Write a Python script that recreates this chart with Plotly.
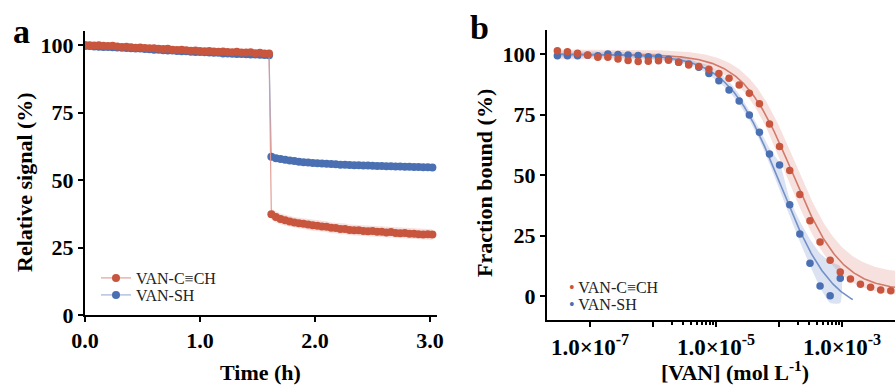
import numpy as np
import plotly.graph_objects as go

W, H = 895, 385
SERIF = "Liberation Serif, Times New Roman, serif"
RED = "#C8553D"
BLUE = "#4A6FB2"

# ---------------- Panel a data ----------------
time_pre = [0.00, 0.04, 0.08, 0.12, 0.16, 0.20, 0.24, 0.28, 0.32, 0.36, 0.40, 0.44, 0.48, 0.52,
            0.56, 0.60, 0.64, 0.68, 0.72, 0.76, 0.80, 0.84, 0.88, 0.92, 0.96, 1.00, 1.04, 1.08,
            1.12, 1.16, 1.20, 1.24, 1.28, 1.32, 1.36, 1.40, 1.44, 1.48, 1.52, 1.56, 1.60]
time_post = [1.62, 1.66, 1.70, 1.74, 1.78, 1.82, 1.86, 1.90, 1.94, 1.98, 2.02, 2.06, 2.10, 2.14,
             2.18, 2.22, 2.26, 2.30, 2.34, 2.38, 2.42, 2.46, 2.50, 2.54, 2.58, 2.62, 2.66, 2.70,
             2.74, 2.78, 2.82, 2.86, 2.90, 2.94, 2.98, 3.02]

red_pre = [100.0, 99.9, 99.8, 99.9, 99.7, 99.6, 99.7, 99.5, 99.3, 99.4, 99.2, 99.0, 99.1, 98.9,
           98.8, 98.8, 98.6, 98.5, 98.6, 98.3, 98.2, 98.3, 98.1, 97.9, 98.0, 97.8, 97.7, 97.8,
           97.6, 97.5, 97.6, 97.4, 97.3, 97.5, 97.2, 97.2, 97.3, 97.0, 97.1, 96.9, 96.9]
red_post = [37.3, 36.3, 35.6, 35.1, 34.6, 34.3, 34.0, 33.8, 33.5, 33.2, 33.1, 32.8, 32.7, 32.3,
            32.2, 31.9, 31.9, 31.5, 31.4, 31.4, 31.1, 31.0, 31.1, 30.8, 30.8, 30.6, 30.7, 30.4,
            30.3, 30.4, 30.1, 30.1, 29.9, 29.8, 29.9, 29.8]
blue_pre = [99.6, 99.6, 99.5, 99.4, 99.3, 99.3, 99.2, 99.1, 99.0, 98.9, 98.8, 98.7, 98.7, 98.5,
            98.4, 98.3, 98.3, 98.1, 98.0, 98.0, 97.8, 97.7, 97.7, 97.5, 97.4, 97.4, 97.3, 97.2,
            97.1, 97.1, 96.9, 96.9, 96.8, 96.7, 96.7, 96.6, 96.5, 96.5, 96.4, 96.3, 96.2]
blue_post = [58.6, 58.1, 57.8, 57.5, 57.2, 57.0, 56.8, 56.6, 56.5, 56.3, 56.2, 56.1, 56.0, 55.9,
             55.8, 55.7, 55.7, 55.6, 55.5, 55.5, 55.4, 55.4, 55.3, 55.2, 55.2, 55.1, 55.1, 55.0,
             55.0, 54.9, 54.9, 54.8, 54.8, 54.7, 54.7, 54.6]
red_sd_pre, red_sd_post = 1.0, 2.0
blue_sd_pre, blue_sd_post = 0.5, 0.7

# ---------------- Panel b data ----------------
conc = [3.03e-8, 4.38e-8, 6.34e-8, 9.17e-8, 1.33e-7, 1.92e-7, 2.78e-7, 4.02e-7, 5.81e-7, 8.41e-7,
        1.22e-6, 1.76e-6, 2.55e-6, 3.68e-6, 5.33e-6, 7.71e-6, 1.11e-5, 1.61e-5, 2.33e-5, 3.38e-5,
        4.89e-5, 7.07e-5, 1.02e-4, 1.48e-4, 2.14e-4, 3.10e-4, 4.48e-4, 6.48e-4, 9.38e-4, 1.36e-3,
        1.96e-3, 2.84e-3, 4.11e-3, 5.94e-3]
red_bound = [101.5, 101.1, 100.4, 99.7, 98.8, 98.8, 98.1, 97.4, 97.0, 97.1, 97.3, 97.5, 96.7, 95.6,
             94.9, 93.8, 92.1, 90.1, 87.3, 83.9, 79.5, 71.2, 61.8, 51.9, 42.0, 31.1, 22.3, 14.8,
             9.9, 7.0, 4.9, 3.6, 2.5, 2.2]
blue_bound = [99.4, 99.4, 99.4, 99.6, 99.4, 100.1, 99.9, 99.7, 99.5, 99.0, 98.8, 97.9, 96.7, 96.0,
              94.6, 92.1, 89.1, 85.2, 80.7, 74.9, 67.7, 58.7, 54.2, 37.7, 25.7, 13.5, 4.1, 0.1, 7.3]
# blue confidence band offsets above / below the fit, at the blue concentrations
blue_band_up = [1.2, 1.2, 1.2, 1.2, 1.2, 1.2, 1.2, 1.2, 1.2, 1.2, 1.2, 1.2, 1.2, 1.2, 1.2,
                2.0, 2.0, 2.0, 2.0, 2.0, 2.5, 4.0, 8.0, 3.5, 4.0, 5.0, 6.0, 8.0, 10.0]
blue_band_lo = [1.2, 1.2, 1.2, 1.2, 1.2, 1.2, 1.2, 1.2, 1.2, 1.2, 1.2, 1.2, 1.2, 1.2, 1.2,
                2.0, 2.0, 2.0, 2.0, 2.0, 2.0, 2.5, 3.0, 3.5, 4.5, 6.0, 8.0, 9.0, 5.0]

# Hill-fit parameters (top, bottom, logIC50, slope)
red_fit = (100.0, 2.0, -3.79, 1.1)
red_fit_hi = (102.0, 9.0, -3.75, 1.15)
red_fit_lo = (98.0, -0.5, -3.86, 1.15)
blue_fit = (100.0, -8.0, -3.976, 1.04)


def hill(lx, p):
    top, bottom, logic, h = p
    return bottom + (top - bottom) / (1 + 10 ** (h * (np.asarray(lx) - logic)))


fig = go.Figure()

# ---------- Panel a ----------
def add_timecourse(tp, vp, sdp, tq, vq, sdq, color, line_color, band_color, name, legend):
    t = tp + tq
    v = vp + vq
    sd = [sdp] * len(tp) + [sdq] * len(tq)
    up = [a + b for a, b in zip(v, sd)]
    lo = [a - b for a, b in zip(v, sd)]
    fig.add_trace(go.Scatter(x=t + t[::-1], y=up + lo[::-1], fill="toself", fillcolor=band_color,
                             line=dict(width=0), mode="lines", hoverinfo="skip", showlegend=False,
                             xaxis="x", yaxis="y"))
    fig.add_trace(go.Scatter(x=t, y=v, mode="lines+markers", name=name,
                             line=dict(color=line_color, width=1.2),
                             marker=dict(color=color, size=8), xaxis="x", yaxis="y",
                             legend=legend))

add_timecourse(time_pre, blue_pre, blue_sd_pre, time_post, blue_post, blue_sd_post,
               BLUE, "rgba(150,172,215,0.9)", "rgba(90,125,190,0.18)", "VAN-SH", "legend2")
add_timecourse(time_pre, red_pre, red_sd_pre, time_post, red_post, red_sd_post,
               RED, "rgba(225,150,140,0.9)", "rgba(220,120,110,0.22)", "VAN-C≡CH", "legend")

# ---------- Panel b ----------
lx_red = np.linspace(-7.55, -2.0, 300)
lx_blue = np.linspace(-7.55, -2.83, 300)

hi = hill(lx_red, red_fit_hi)
lo = hill(lx_red, red_fit_lo)
xr = 10 ** lx_red
fig.add_trace(go.Scatter(x=np.concatenate([xr, xr[::-1]]), y=np.concatenate([hi, lo[::-1]]),
                         fill="toself", fillcolor="rgba(220,120,105,0.22)", line=dict(width=0),
                         mode="lines", hoverinfo="skip", showlegend=False, xaxis="x2", yaxis="y2"))

lcb = np.log10(conc[:len(blue_bound)])
bfit = hill(lcb, blue_fit)
bup = bfit + np.array(blue_band_up)
blo = bfit - np.array(blue_band_lo)
xb = np.array(conc[:len(blue_bound)])
fig.add_trace(go.Scatter(x=np.concatenate([xb, xb[::-1]]), y=np.concatenate([bup, blo[::-1]]),
                         fill="toself", fillcolor="rgba(90,125,195,0.22)",
                         line=dict(width=0, shape="spline", smoothing=0.6),
                         mode="lines", hoverinfo="skip", showlegend=False, xaxis="x2", yaxis="y2"))

fig.add_trace(go.Scatter(x=xr, y=hill(lx_red, red_fit), mode="lines",
                         line=dict(color="#D27A6A", width=1.6), showlegend=False,
                         xaxis="x2", yaxis="y2"))
fig.add_trace(go.Scatter(x=10 ** lx_blue, y=hill(lx_blue, blue_fit), mode="lines",
                         line=dict(color="#7391C8", width=1.6), showlegend=False,
                         xaxis="x2", yaxis="y2"))
fig.add_trace(go.Scatter(x=conc[:len(blue_bound)], y=blue_bound, mode="markers",
                         marker=dict(color=BLUE, size=7.5), showlegend=False,
                         xaxis="x2", yaxis="y2"))
fig.add_trace(go.Scatter(x=conc, y=red_bound, mode="markers",
                         marker=dict(color=RED, size=7.5), showlegend=False,
                         xaxis="x2", yaxis="y2"))

# ---------- Axes ----------
tickfont = dict(family=SERIF, size=22, color="black", weight="bold")
common = dict(showline=True, linecolor="black", linewidth=2, ticks="outside", ticklen=5,
              tickwidth=2, tickcolor="black", showgrid=False, zeroline=False,
              automargin=False)

legend_common = dict(xanchor="left", yanchor="middle",
                     font=dict(family=SERIF, size=16, color="#222"), bgcolor="rgba(0,0,0,0)",
                     itemwidth=30, tracegroupgap=0, borderwidth=0)

fig.update_layout(
    width=W, height=H, margin=dict(l=0, r=0, t=0, b=0, autoexpand=False),
    plot_bgcolor="white", paper_bgcolor="white",
    xaxis=dict(domain=[85 / W, 437 / W], range=[0, 3.06], tickvals=[0, 1, 2, 3],
               tickformat=".1f", anchor="y", tickfont=tickfont, **common),
    yaxis=dict(domain=[(H - 315) / H, (H - 31) / H], range=[0, 105.2],
               tickvals=[0, 25, 50, 75, 100], anchor="x", tickfont=tickfont, **common),
    xaxis2=dict(domain=[547 / W, 1.0], type="log", range=[-7.683, -2.159],
                tickvals=[1e-7, 1e-6, 1e-5, 1e-4, 1e-3],
                ticktext=["1.0×10<sup>-7</sup>", "", "1.0×10<sup>-5</sup>", "",
                          "1.0×10<sup>-3</sup>"],
                minor=dict(tickvals=[2e-6, 3e-6, 4e-6, 5e-6, 6e-6, 7e-6, 8e-6, 9e-6,
                                     2e-4, 3e-4, 4e-4, 5e-4, 6e-4, 7e-4, 8e-4, 9e-4],
                           ticks="outside", ticklen=3, tickwidth=1.5, tickcolor="black"),
                anchor="y2", tickfont=dict(tickfont, size=23), **common),
    yaxis2=dict(domain=[(H - 320) / H, (H - 30) / H], range=[-9.93, 110.05],
                tickvals=[0, 25, 50, 75, 100], anchor="x2", tickfont=tickfont, **common),
    legend=dict(x=96 / W, y=(H - 278) / H, **legend_common),
    legend2=dict(x=96 / W, y=(H - 295) / H, **legend_common),
)

title_font = dict(family=SERIF, size=22, color="black", weight="bold")
ann = [
    dict(text="a", x=21 / W, y=(H - 31) / H, font=dict(family=SERIF, size=34, color="black", weight="bold")),
    dict(text="b", x=479 / W, y=(H - 27) / H, font=dict(family=SERIF, size=34, color="black", weight="bold")),
    dict(text="Relative signal (%)", x=24 / W, y=(H - 182) / H, textangle=-90, font=title_font),
    dict(text="Time (h)", x=260 / W, y=(H - 372) / H, font=title_font),
    dict(text="Fraction bound (%)", x=484 / W, y=(H - 183) / H, textangle=-90, font=title_font),
    dict(text="[VAN] (mol L<sup>-1</sup>)", x=735 / W, y=(H - 371) / H, font=title_font),
    dict(text=f"<span style='color:{RED}'>•</span> VAN-C≡CH", x=567 / W, y=(H - 287) / H,
         xanchor="left", font=dict(family=SERIF, size=16, color="#222")),
    dict(text=f"<span style='color:{BLUE}'>•</span> VAN-SH", x=567 / W, y=(H - 304) / H,
         xanchor="left", font=dict(family=SERIF, size=16, color="#222")),
]
for a in ann:
    a.setdefault("xanchor", "center")
    fig.add_annotation(xref="paper", yref="paper", showarrow=False, yanchor="middle", **a)

fig.write_html("out.html")
